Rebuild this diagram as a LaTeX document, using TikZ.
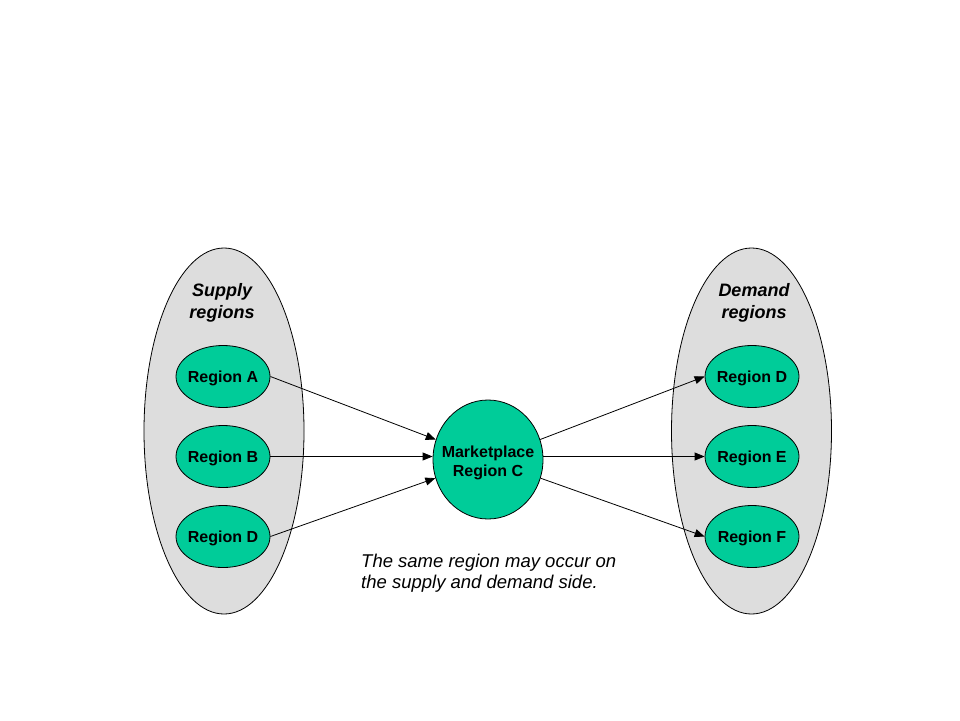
\documentclass[tikz,border=0pt]{standalone}
\usepackage{fontspec}
\setmainfont{Liberation Sans}
\usetikzlibrary{shapes.geometric,arrows.meta}
\definecolor{regiongreen}{RGB}{0,204,153}
\definecolor{groupgray}{RGB}{221,221,221}
\begin{document}
\begin{tikzpicture}[x=1pt,y=-1pt,
  group/.style={ellipse, draw=black, fill=groupgray, line width=0.8pt, minimum width=160pt, minimum height=366pt, inner sep=0pt},
  region/.style={ellipse, draw=black, fill=regiongreen, line width=0.8pt, minimum width=94pt, minimum height=62pt, inner sep=0pt},
  regionlabel/.style={inner sep=0pt, font=\fontsize{16}{19}\selectfont\bfseries},
  market/.style={ellipse, draw=black, fill=regiongreen, line width=0.8pt, minimum width=110pt, minimum height=119pt, inner sep=0pt},
  marketlabel/.style={align=center, inner sep=0pt, font=\fontsize{16}{19}\selectfont\bfseries},
  grouplabel/.style={align=center, font=\fontsize{18}{22}\selectfont\bfseries\itshape},
  flow/.style={-{Triangle[length=10pt,width=8pt]}, line width=0.8pt}]
\useasboundingbox (0,0) rectangle (960,720);
\node[group] (sup) at (224,431) {};
\node[group] (dem) at (751.5,431) {};
\node[grouplabel] (suplab) at (222,303) {Supply\\regions};
\node[grouplabel] (demlab) at (754,303) {Demand\\regions};
\node[region] (ra) at (223,376.5) {};
\node[region] (rb) at (223,456.5) {};
\node[region] (rd1) at (223,536.5) {};
\node[region] (rd2) at (752,376.5) {};
\node[region] (re) at (752,456.5) {};
\node[region] (rf) at (752,536.5) {};
\node[regionlabel] (lab-ra) at (223,378) {Region A};
\node[regionlabel] (lab-rb) at (223,458) {Region B};
\node[regionlabel] (lab-rd1) at (223,538) {Region D};
\node[regionlabel] (lab-rd2) at (752,378) {Region D};
\node[regionlabel] (lab-re) at (752,458) {Region E};
\node[regionlabel] (lab-rf) at (752,538) {Region F};
\node[market] (m) at (488,459.5) {};
\node[marketlabel] (mlab) at (488,462.5) {Marketplace\\Region C};
\draw[flow] (ra.east) -- (m);
\draw[flow] (rb.east) -- (rb.east -| m.west);
\draw[flow] (rd1.east) -- (m);
\draw[flow] (m) -- (rd2.west);
\draw[flow] (re.west -| m.east) -- (re.west);
\draw[flow] (m) -- (rf.west);
\node[anchor=north west, align=left, inner sep=0pt, font=\fontsize{18.5}{21}\selectfont\itshape] (cap) at (361,553.5) {The same region may occur on\\the supply and demand side.};
\end{tikzpicture}
\end{document}
